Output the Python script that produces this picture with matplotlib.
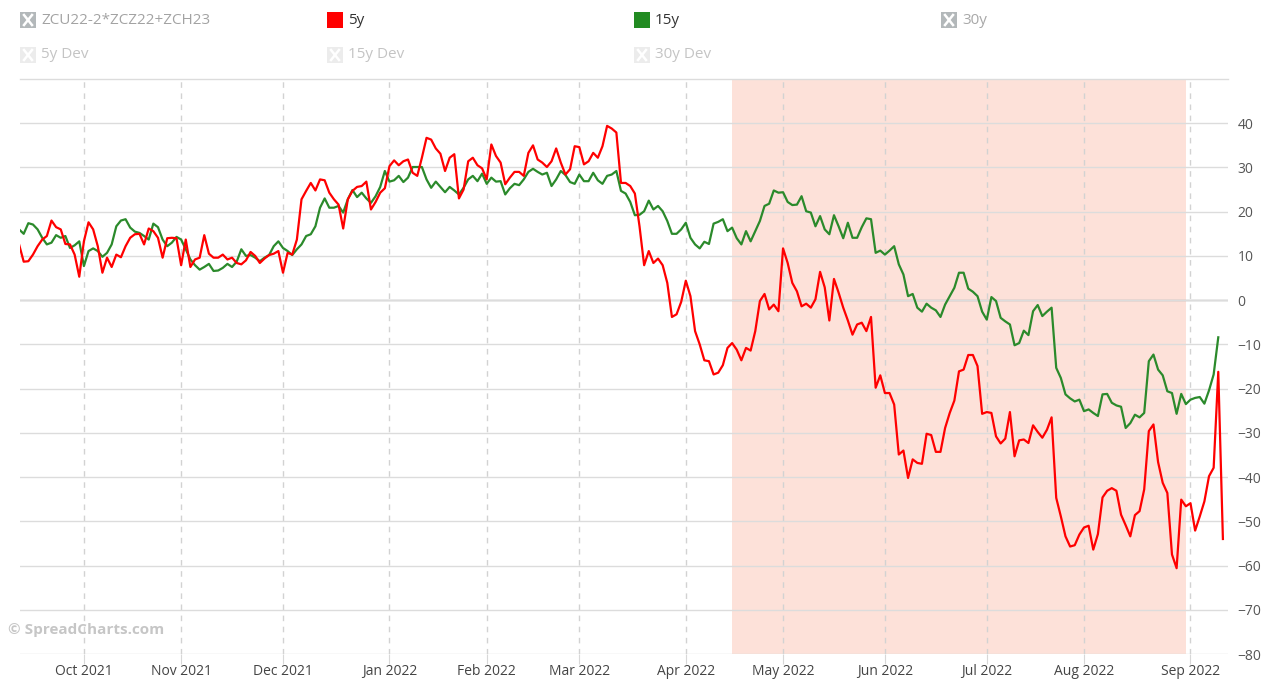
import matplotlib
matplotlib.use("Agg")
import matplotlib.pyplot as plt
from matplotlib.patches import Rectangle
import numpy as np
import pandas as pd

plt.rcParams['font.family'] = ['Open Sans', 'DejaVu Sans']

# serie 5y (roja), un valor por dia habil desde 13-sep-2021
valores_5y = [
    12.6, 8.7, 8.8, 10.3, 12.2, 13.7, 14.5, 18.0, 16.5, 16.0, 12.7, 12.6, 10.3, 5.3, 13.3, 17.6,
    16.0, 12.2, 6.2, 9.6, 7.5, 10.3, 9.7, 12.2, 14.1, 14.9, 15.0, 12.6, 16.2, 15.6, 14.1, 9.6,
    14.0, 14.1, 14.0, 7.9, 13.7, 7.5, 9.2, 9.6, 14.7, 10.5, 9.6, 9.6, 10.3, 9.2, 9.6, 8.4,
    8.1, 9.0, 10.9, 10.0, 8.4, 9.4, 10.2, 10.5, 11.1, 6.2, 10.7, 10.3, 13.7, 22.8, 24.7, 26.5,
    24.8, 27.3, 27.1, 24.3, 22.8, 21.6, 16.2, 22.8, 24.7, 25.6, 25.8, 26.8, 20.5, 22.2, 24.3, 25.3,
    30.3, 31.6, 30.5, 31.4, 31.8, 28.8, 28.1, 32.2, 36.7, 36.3, 34.3, 33.1, 29.2, 32.2, 33.0, 23.0,
    25.0, 31.4, 32.2, 30.5, 29.8, 27.3, 35.2, 32.6, 31.1, 26.2, 27.7, 29.0, 29.0, 28.1, 33.3, 35.0,
    31.8, 31.1, 30.1, 31.4, 34.3, 31.1, 28.4, 29.6, 34.8, 34.6, 30.7, 31.4, 33.3, 32.2, 34.8, 39.4,
    38.8, 37.9, 26.5, 26.5, 25.8, 24.1, 16.7, 7.9, 11.1, 8.4, 9.4, 7.9, 3.9, -3.8, -3.2, -0.4,
    4.4, 0.9, -7.0, -10.0,
    -13.6, -13.8, -16.8, -16.4, -14.7, -10.8, -9.7, -11.2, -13.6, -10.8, -11.4, -7.0, -0.2, 1.4,
    -2.1, -1.0, -2.5, 11.7, 8.4, 3.9, 2.0, -1.4, -0.8, -1.7, 0.2, 6.4, 2.9, -4.6, 4.8, 1.7,
    -1.7, -4.6, -7.8, -5.5, -5.1, -7.0, -3.8, -19.8, -17.0, -21.0, -21.0, -23.6, -34.9, -34.0,
    -40.2, -36.0, -36.8,
    -37.0, -30.2, -30.5, -34.3, -34.3, -28.9, -25.5, -22.7, -16.1, -15.7, -12.4, -12.4, -14.9,
    -25.7, -25.3, -25.5, -30.8, -32.4, -31.3, -25.3, -35.3, -31.7, -31.5, -32.3, -28.3, -29.8,
    -31.1, -29.3, -26.5, -44.7, -48.9, -53.4, -55.7, -55.4, -53.0, -51.4, -51.0, -56.4, -52.9,
    -44.6, -43.1,
    -42.5, -43.1, -48.5, -50.9, -53.4, -48.6, -47.7, -42.8, -29.6, -28.1, -36.6, -41.3, -43.6,
    -57.5, -60.6, -45.1, -46.6, -45.9, -52.1, -48.9, -45.5, -39.8, -37.9, -16.2, -54.0,
]

# serie 15y (verde)
valores_15y = [
    16.0, 15.0, 17.4, 17.1, 16.0, 14.1, 12.6, 13.0, 14.7, 14.1, 14.5, 11.8, 12.4, 13.3, 7.7, 11.1,
    11.7, 11.1, 9.8, 10.7, 12.6, 16.7, 18.0, 18.3, 16.4, 15.5, 15.2, 14.5, 13.7, 17.3, 16.5, 13.7,
    12.2, 13.0, 14.3, 13.7, 11.5, 9.2, 7.9, 6.9, 7.5, 8.2, 6.6, 6.7, 7.3, 8.2, 7.5, 8.7,
    11.5, 10.0, 10.2, 9.6, 8.8, 9.6, 10.2, 12.2, 13.3, 11.8, 11.1, 10.2, 11.5, 12.6, 14.5, 14.9,
    16.7, 20.9, 23.0, 20.9, 20.9, 21.3, 19.8, 22.8, 24.9, 23.3, 24.3, 23.0, 22.0, 23.5, 25.6, 29.2,
    26.8, 27.1, 28.1, 26.7, 27.7, 30.1, 30.1, 30.1, 27.3, 25.4, 26.8, 25.6, 24.4, 25.6, 24.8, 23.9,
    25.4, 27.3, 28.1, 26.9, 28.6, 26.3, 27.7, 26.8, 26.9, 23.9, 25.3, 26.3, 26.0, 27.3, 29.0, 29.7,
    29.0, 28.4, 28.8, 25.8, 27.3, 29.2, 28.3, 26.7, 26.3, 28.4, 26.9, 26.9, 28.8, 27.1, 26.3, 28.1,
    28.4, 29.2, 24.7, 24.1, 22.2, 19.2, 19.3, 20.1, 22.5, 20.5, 21.3, 20.1, 17.9, 15.0, 15.0, 16.0,
    17.5, 14.1, 12.6, 11.7,
    13.2, 12.7, 17.3, 17.7, 18.3, 15.6, 16.4, 14.0, 12.6, 15.6, 13.3, 15.6, 17.9, 21.3, 21.8,
    24.8, 24.3, 24.4, 22.2, 21.5, 21.6, 23.5, 20.1, 19.8, 16.7, 19.0, 16.0, 14.9, 19.2, 16.7,
    14.0, 17.5, 14.1, 14.1, 16.5, 18.5, 18.3, 10.7, 11.2, 10.3, 11.2, 12.2, 8.1, 5.8, 0.9, 1.4,
    -1.7,
    -2.6, -0.8, -1.7, -2.3, -3.8, -1.0, 0.9, 2.8, 6.2, 6.2, 2.6, 1.9, 0.9, -2.6, -4.4, 0.7,
    -0.2, -4.0, -4.8, -5.5, -10.2, -9.7, -6.9, -7.9, -2.5, -1.1, -3.6, -2.6, -1.7, -15.3, -17.6,
    -21.3, -22.2, -22.9, -22.5, -25.1, -24.7, -25.5, -26.2, -21.3, -21.2,
    -23.2, -23.8, -24.1, -28.9, -27.8, -25.9, -26.5, -25.5, -13.8, -12.3, -15.7, -17.0, -20.6,
    -21.0, -25.7, -21.2, -23.5, -22.5, -22.1, -21.9, -23.4, -20.4, -16.8, -8.4,
]

# eje ordinal: cada dia habil ocupa el mismo ancho (sin huecos de fin de semana)
dias = pd.bdate_range("2021-09-13", periods=max(len(valores_5y), len(valores_15y)))
pos_5y = np.arange(len(valores_5y))
pos_15y = np.arange(len(valores_15y))

meses = pd.date_range("2021-10-01", "2022-09-01", freq="MS")
etiquetas_meses = [m.strftime("%b %Y") for m in meses]
pos_meses = [dias.searchsorted(m) for m in meses]
marcas_y = list(range(-80, 41, 10))

zona_inicio = dias.searchsorted(pd.Timestamp("2022-04-15"))
zona_fin = dias.searchsorted(pd.Timestamp("2022-08-31"))

# leyenda de arriba: (texto, color del cuadro, color del texto, activo)
leyenda_fila1 = [("ZCU22-2*ZCZ22+ZCH23", "#b3b8ba", "#a3a3a3", False),
                 ("5y", "#ff0000", "#333333", True),
                 ("15y", "#228b22", "#333333", True),
                 ("30y", "#b3b8ba", "#a8a8a8", False)]
leyenda_fila2 = [("5y Dev", "#ececec", "#c4c4c4", False),
                 ("15y Dev", "#ececec", "#c4c4c4", False),
                 ("30y Dev", "#ececec", "#c4c4c4", False)]
x_leyenda = [20, 327, 634, 941]

W, H = 1262, 684
fig = plt.figure(figsize=(W / 100, H / 100), dpi=100)
ax = fig.add_axes([20 / W, 1 - 654 / H, 1208 / W, 575 / H])

ax.axvspan(zona_inicio, zona_fin, color="#fde1d9", lw=0, zorder=0)
for p in pos_meses:
    ax.axvline(p, color="#d2d2d2", lw=1, ls=(0, (4, 4)), zorder=1)
ax.grid(axis="y", color="#dcdcdc", lw=1, zorder=1)
ax.axhline(0, color="#a8a8a8", lw=1, zorder=1)
ax.axhline(50, color="#dcdcdc", lw=1, clip_on=False, zorder=1)

ax.plot(pos_15y, valores_15y, color="#2b8a2b", lw=1.6, zorder=3)
ax.plot(pos_5y, valores_5y, color="#ff0000", lw=1.6, zorder=4)

ax.set_xlim(0.2, 261.1)
ax.set_ylim(-80, 50)
ax.set_yticks(marcas_y)
ax.yaxis.tick_right()
ax.tick_params(axis="y", length=0, pad=7, labelsize=10, labelcolor="#555555")
ax.set_xticks(pos_meses)
ax.set_xticklabels(etiquetas_meses)
ax.tick_params(axis="x", length=7, color="#d8d8d8", labelsize=10, labelcolor="#444444", pad=0.5)
for s in ax.spines.values():
    s.set_visible(False)

# capa en pixeles para leyenda y marca de agua
capa = fig.add_axes([0, 0, 1, 1], facecolor="none")
capa.set_xlim(0, W)
capa.set_ylim(H, 0)
capa.axis("off")


def dibujar_item(x, y, texto, color_caja, color_texto, activo):
    capa.add_patch(Rectangle((x, y - 8), 16, 16, facecolor=color_caja, edgecolor="none"))
    if not activo:
        capa.plot([x + 4, x + 12], [y - 5, y + 5], color="white", lw=1.8)
        capa.plot([x + 12, x + 4], [y - 5, y + 5], color="white", lw=1.8)
    capa.text(x + 21, y, texto, color=color_texto, fontsize=11, va="center", ha="left")


for (texto, caja, ctexto, activo), x in zip(leyenda_fila1, x_leyenda):
    dibujar_item(x, 20, texto, caja, ctexto, activo)
for (texto, caja, ctexto, activo), x in zip(leyenda_fila2, x_leyenda):
    dibujar_item(x, 55, texto, caja, ctexto, activo)

capa.text(8, 630, "© SpreadCharts.com", color="#c6c6c6", fontsize=11,
          fontweight="bold", va="center", ha="left")

fig.savefig("out.png", dpi=100)
